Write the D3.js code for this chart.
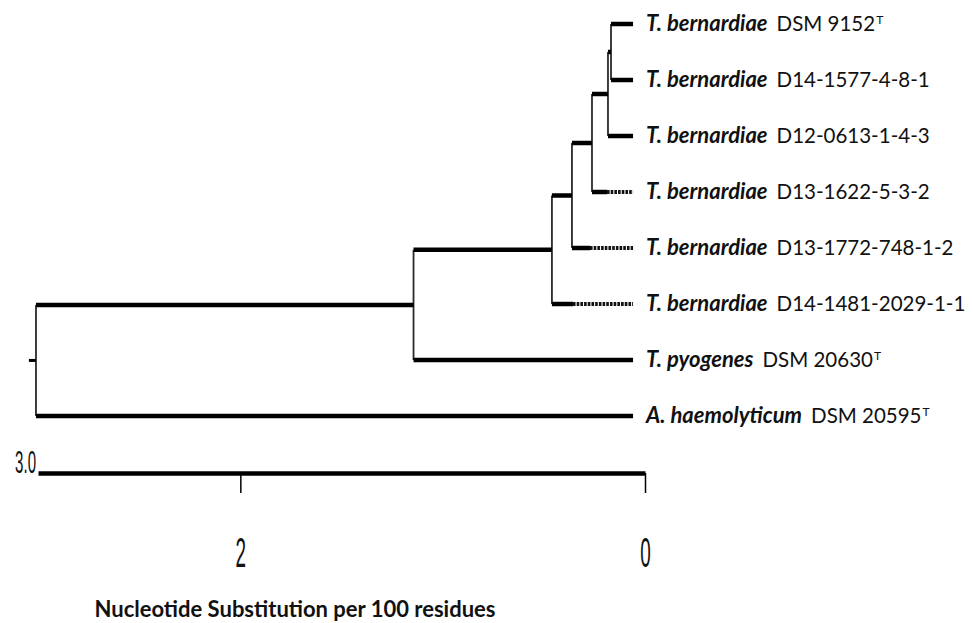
<!DOCTYPE html>
<html>
<head>
<meta charset="utf-8">
<script src="https://cdn.jsdelivr.net/npm/d3@7"></script>
<style>
    body { margin: 0; background: #fff; }
    svg { display: block; background: #fff; }
    .branch { stroke: #000; stroke-width: 4.5; fill: none; }
    .join { stroke: #2a2a2a; stroke-width: 1.8; fill: none; }
    .dotted { stroke: #111; stroke-width: 4; stroke-dasharray: 2.6 1.1; fill: none; }
    .leaf-label { font-family: Lato, "Open Sans", sans-serif; font-size: 20.5px; fill: #111; }
    .species { font-style: italic; font-weight: 700; font-size: 22px; }
    .sup { font-size: 12px; }
    .condensed { font-family: "Liberation Sans", Arial, sans-serif; fill: #111; }
    .title { font-family: Lato, "Open Sans", sans-serif; font-weight: 700; font-size: 22px; fill: #111; }
</style>
</head>
<body>
<svg width="973" height="623"></svg>
<script>
// leaves, top to bottom
const species = ["T. bernardiae", "T. bernardiae", "T. bernardiae", "T. bernardiae",
    "T. bernardiae", "T. bernardiae", "T. pyogenes", "A. haemolyticum"];
const strains = ["DSM 9152", "D14-1577-4-8-1", "D12-0613-1-4-3", "D13-1622-5-3-2",
    "D13-1772-748-1-2", "D14-1481-2029-1-1", "DSM 20630", "DSM 20595"];
const typeStrain = [true, false, false, false, false, false, true, true];
// height where the dotted tip starts, null means solid all the way
const dottedFrom = [null, null, null, 0.188, 0.272, 0.356, null, null];

// internal nodes, heights read against the scale bar
const nodeNames = ["root", "n1", "n2", "n3", "n4", "n5", "n6"];
const nodeHeights = [3.01, 1.144, 0.46, 0.361, 0.262, 0.183, 0.168];
const nodeChildren = [["n1", 7], ["n2", 6], ["n3", 5], ["n4", 4], ["n5", 3], ["n6", 2], [0, 1]];
const tipHeight = 0.059;
const rootStub = 3.045;

const axisMax = 3.0;
const axisTicks = [2, 0];
const axisTitle = "Nucleotide Substitution per 100 residues";

const svg = d3.select("svg");

const x = d3.scaleLinear().domain([axisMax, 0]).range([38, 645]);
const y = d3.scaleLinear().domain([0, species.length - 1]).range([24, 416]);

function buildNode(name) {
    var i = nodeNames.indexOf(name);
    return {
        name: name,
        height: nodeHeights[i],
        children: nodeChildren[i].map(c => typeof c === "number"
            ? { leaf: c, height: tipHeight }
            : buildNode(c))
    };
}

const root = d3.hierarchy(buildNode("root"));
root.eachAfter(d => {
    if (d.children) {
        d.py = (d.children[0].py + d.children[d.children.length - 1].py) / 2;
    } else {
        d.py = y(d.data.leaf);
    }
});

const tree = svg.append("g");

// vertical joins
tree.selectAll("line.join")
    .data(root.descendants().filter(d => d.children))
    .join("line")
    .attr("class", "join")
    .attr("x1", d => x(d.data.height))
    .attr("x2", d => x(d.data.height))
    .attr("y1", d => d.children[0].py)
    .attr("y2", d => d.children[d.children.length - 1].py);

// horizontal branches
const edges = root.descendants().filter(d => d.parent);
tree.selectAll("line.branch")
    .data(edges)
    .join("line")
    .attr("class", "branch")
    .attr("x1", d => x(d.parent.data.height))
    .attr("x2", d => {
        if (d.data.leaf != null && dottedFrom[d.data.leaf] != null) {
            return x(dottedFrom[d.data.leaf]);
        }
        return x(d.data.height);
    })
    .attr("y1", d => d.py)
    .attr("y2", d => d.py);

tree.selectAll("line.dotted")
    .data(edges.filter(d => d.data.leaf != null && dottedFrom[d.data.leaf] != null))
    .join("line")
    .attr("class", "dotted")
    .attr("x1", d => x(dottedFrom[d.data.leaf]))
    .attr("x2", d => x(d.data.height))
    .attr("y1", d => d.py)
    .attr("y2", d => d.py);

// little stub at the root
tree.append("line")
    .attr("class", "branch")
    .style("stroke-width", "3px")
    .attr("x1", x(rootStub))
    .attr("x2", x(root.data.height))
    .attr("y1", root.py)
    .attr("y2", root.py);

// leaf labels
const labels = svg.append("g")
    .selectAll("text")
    .data(species)
    .join("text")
    .attr("class", "leaf-label")
    .attr("x", x(tipHeight) + 13)
    .attr("y", (d, i) => y(i))
    .attr("dy", "0.36em");

labels.append("tspan").attr("class", "species").text(d => d);
labels.append("tspan").attr("dx", 9).text((d, i) => strains[i]);
labels.filter((d, i) => typeStrain[i])
    .append("tspan")
    .attr("class", "sup")
    .attr("dx", 1)
    .attr("dy", "-0.6em")
    .text("T");

// scale bar
const barY = 473;
const axis = d3.axisBottom(x)
    .tickValues(axisTicks)
    .tickSize(20)
    .tickSizeOuter(0)
    .tickPadding(44)
    .tickFormat(d3.format("d"));

const gAxis = svg.append("g")
    .attr("transform", `translate(0,${barY})`)
    .call(axis);

gAxis.select(".domain").attr("stroke-width", 4.5).attr("stroke", "#000");
gAxis.selectAll(".tick line").attr("stroke-width", 1.5);
gAxis.selectAll(".tick text")
    .attr("class", "condensed")
    .attr("font-size", 42)
    .attr("transform", "scale(0.45,1)");

svg.append("text")
    .attr("class", "condensed")
    .attr("font-size", 32)
    .attr("text-anchor", "end")
    .attr("transform", `translate(${x(axisMax) - 2},${barY}) scale(0.47,1)`)
    .text(axisMax.toFixed(1));

svg.append("text")
    .attr("class", "title")
    .attr("x", 295)
    .attr("y", 617)
    .attr("text-anchor", "middle")
    .text(axisTitle);
</script>
</body>
</html>
